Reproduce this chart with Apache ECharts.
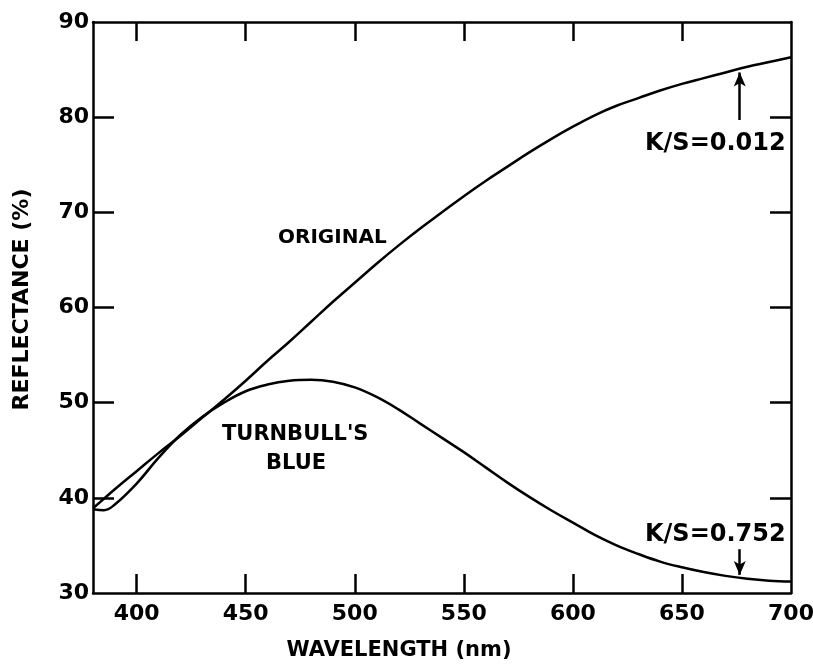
<!DOCTYPE html>
<html>
<head>
<meta charset="utf-8">
<script src="https://cdn.jsdelivr.net/npm/echarts@6/dist/echarts.min.js"></script>
<style>
  html, body { margin: 0; padding: 0; background: #fff; }
  #chart { width: 813px; height: 665px; }
</style>
</head>
<body>
<div id="chart"></div>
<script>
// wavelength (nm), every 10 nm plus one extra point near the dip at the start
const wavelengths = [380, 385, 390, 400, 410, 420, 430, 440, 450, 460, 470, 480, 490, 500,
  510, 520, 530, 540, 550, 560, 570, 580, 590, 600, 610, 620, 630, 640, 650,
  660, 670, 680, 690, 700];

// reflectance (%)
const original = [38.9, 39.9, 40.9, 42.8, 44.7, 46.5, 48.4, 50.3, 52.3, 54.4, 56.4, 58.5, 60.6, 62.6,
  64.6, 66.5, 68.3, 70.0, 71.7, 73.3, 74.8, 76.3, 77.7, 79.0, 80.2, 81.2, 82.0, 82.8, 83.5,
  84.1, 84.7, 85.3, 85.8, 86.3];
const turnbull = [38.8, 38.7, 39.3, 41.5, 44.2, 46.6, 48.5, 50.0, 51.2, 51.9, 52.3, 52.4, 52.2, 51.6,
  50.6, 49.3, 47.8, 46.3, 44.8, 43.2, 41.6, 40.1, 38.7, 37.4, 36.1, 35.0, 34.1, 33.3, 32.7,
  32.2, 31.8, 31.5, 31.3, 31.2];

const xTicks = [400, 450, 500, 550, 600, 650, 700];
const yTicks = [30, 40, 50, 60, 70, 80, 90];

// arrows beside the K/S labels: [wavelength, from, to]
const arrowTop = [676.5, 79.7, 84.7];
const arrowBottom = [676.5, 34.6, 31.9];

const font = "'DejaVu Sans', sans-serif";

let myChart = echarts.init(document.getElementById('chart'));

const baseX = {
  type: 'value',
  min: 380,
  max: 700,
  interval: 50,
  axisLine: { show: true, onZero: false, lineStyle: { color: '#000', width: 2.5 } },
  axisTick: { show: true, inside: true, length: 19, lineStyle: { color: '#000', width: 2.5 },
    customValues: xTicks.slice(0, 6) },
  splitLine: { show: false }
};
const baseY = {
  type: 'value',
  min: 30,
  max: 90,
  interval: 10,
  axisLine: { show: true, onZero: false, lineStyle: { color: '#000', width: 2.5 } },
  axisTick: { show: true, inside: true, length: 21, lineStyle: { color: '#000', width: 2.5 },
    customValues: yTicks.slice(1, 6) },
  splitLine: { show: false }
};

function arrowLine(a) {
  return [{ coord: [a[0], a[1]] }, { coord: [a[0], a[2]] }];
}

function label(text, left, top, size) {
  return { type: 'text', left: left, top: top,
    style: { text: text, fill: '#000', font: 'bold ' + size + "px 'DejaVu Sans', sans-serif" } };
}

const option = {
  animation: false,
  grid: { left: 93, right: 22, top: 22, bottom: 72, outerBoundsMode: 'none', containLabel: false },
  xAxis: [
    Object.assign({}, baseX, {
      position: 'bottom',
      axisLabel: { color: '#000', fontFamily: font, fontWeight: 'bold', fontSize: 22, margin: 10,
        customValues: xTicks },
      name: 'WAVELENGTH (nm)',
      nameLocation: 'middle',
      nameGap: 47,
      nameTextStyle: { color: '#000', fontFamily: font, fontWeight: 'bold', fontSize: 21,
        padding: [0, 86, 0, 0] }
    }),
    Object.assign({}, baseX, { position: 'top', axisLabel: { show: false } })
  ],
  yAxis: [
    Object.assign({}, baseY, {
      position: 'left',
      axisLabel: { color: '#000', fontFamily: font, fontWeight: 'bold', fontSize: 22, margin: 4,
        customValues: yTicks },
      name: 'REFLECTANCE (%)',
      nameLocation: 'middle',
      nameRotate: 90,
      nameGap: 60,
      nameTextStyle: { color: '#000', fontFamily: font, fontWeight: 'bold', fontSize: 22,
        padding: [0, 0, 0, 16] }
    }),
    Object.assign({}, baseY, { position: 'right', axisLabel: { show: false } })
  ],
  series: [
    {
      name: 'ORIGINAL',
      type: 'line',
      smooth: 0.4,
      symbol: 'none',
      lineStyle: { color: '#000', width: 2.5 },
      data: wavelengths.map((w, i) => [w, original[i]]),
      markLine: {
        silent: true,
        symbol: ['none', 'arrow'],
        symbolSize: [9, 14],
        label: { show: false },
        lineStyle: { color: '#000', width: 2.5, type: 'solid' },
        data: [arrowLine(arrowTop), arrowLine(arrowBottom)]
      }
    },
    {
      name: "TURNBULL'S BLUE",
      type: 'line',
      smooth: 0.4,
      symbol: 'none',
      lineStyle: { color: '#000', width: 2.5 },
      data: wavelengths.map((w, i) => [w, turnbull[i]])
    }
  ],
  graphic: [
    label('ORIGINAL', 278, 228, 20),
    label("TURNBULL'S", 222, 424, 21),
    label('BLUE', 266, 453, 21),
    label('K/S=0.012', 645, 132, 24),
    label('K/S=0.752', 645, 523, 24)
  ]
};

myChart.setOption(option);
</script>
</body>
</html>
